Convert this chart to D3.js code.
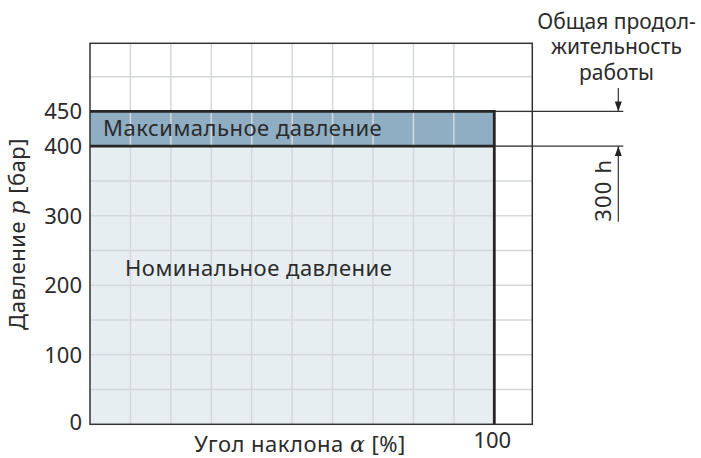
<!DOCTYPE html>
<html lang="ru">
<head>
    <meta charset="UTF-8">
    <title>Давление и угол наклона</title>
    <script src="https://d3js.org/d3.v7.min.js"></script>
    <style>
        body { margin: 0; background: #fff; }
        svg text {
            font-family: "Noto Sans", "Open Sans", sans-serif;
            font-size: 22px;
            letter-spacing: 0.5px;
            fill: #2b2b2b;
        }
        svg text.tick { letter-spacing: 0; }
        svg text.title { font-size: 21px; letter-spacing: 0; }
        svg text.life { letter-spacing: 1.2px; }
        .grid line { stroke: #d5d8db; stroke-width: 1.5px; }
        .math { font-family: "DejaVu Serif", serif; font-style: italic; }
    </style>
</head>
<body>
    <script>
        // значения с графика
        const pressureTicks = [0, 100, 200, 300, 400, 450];
        const pressureGrid = [50, 100, 150, 200, 250, 300, 350, 400, 450, 500];
        const angleGrid = [10, 20, 30, 40, 50, 60, 70, 80, 90];
        const angleTicks = [100];
        const zoneNames = ["Номинальное давление", "Максимальное давление"];
        const zoneFrom = [0, 400];
        const zoneTo = [400, 450];
        const angleMax = 100;
        const lifeLabel = "300 h";
        const lifeTitle = ["Общая продол-", "жительность", "работы"];

        const width = 701, height = 458;
        const plotLeft = 90, plotRight = 532.3, plotTop = 43.3, plotBottom = 424.3;

        const svg = d3.select("body").append("svg")
            .attr("width", width)
            .attr("height", height);

        const x = d3.scaleLinear().domain([0, 109.4]).range([plotLeft, plotRight]);
        const y = d3.scaleLinear().domain([0, 548]).range([plotBottom, plotTop]);

        // заливка зон
        const zoneFill = ["#e7eef2", "#8fadc3"];
        svg.selectAll(".zone")
            .data(zoneNames)
            .enter()
            .append("rect")
            .attr("class", "zone")
            .attr("x", x(0))
            .attr("width", x(angleMax) - x(0))
            .attr("y", (d, i) => y(zoneTo[i]))
            .attr("height", (d, i) => y(zoneFrom[i]) - y(zoneTo[i]))
            .attr("fill", (d, i) => zoneFill[i]);

        // сетка
        const grid = svg.append("g").attr("class", "grid");
        grid.selectAll(".gx")
            .data(angleGrid)
            .enter()
            .append("line")
            .attr("x1", d => x(d)).attr("x2", d => x(d))
            .attr("y1", plotTop).attr("y2", plotBottom);
        grid.selectAll(".gy")
            .data(pressureGrid)
            .enter()
            .append("line")
            .attr("x1", plotLeft).attr("x2", plotRight)
            .attr("y1", d => y(d)).attr("y2", d => y(d));

        // рамка
        svg.append("rect")
            .attr("x", plotLeft).attr("y", plotTop)
            .attr("width", plotRight - plotLeft).attr("height", plotBottom - plotTop)
            .attr("fill", "none")
            .attr("stroke", "#333")
            .attr("stroke-width", 1.5);

        // тонкие линии до размерной стрелки
        const dimX = 618.3;
        svg.selectAll(".ext")
            .data(zoneTo)
            .enter()
            .append("line")
            .attr("x1", x(angleMax)).attr("x2", dimX + 5)
            .attr("y1", d => y(d)).attr("y2", d => y(d))
            .attr("stroke", "#333")
            .attr("stroke-width", 1.2);

        // жирные границы зон
        const edge = d3.path();
        edge.moveTo(x(0), y(zoneTo[1]));
        edge.lineTo(x(angleMax), y(zoneTo[1]));
        edge.lineTo(x(angleMax), y(0));
        edge.moveTo(x(0), y(zoneFrom[1]));
        edge.lineTo(x(angleMax), y(zoneFrom[1]));
        svg.append("path")
            .attr("d", edge.toString())
            .attr("fill", "none")
            .attr("stroke", "#262626")
            .attr("stroke-width", 2.8);

        // подписи зон
        svg.append("text")
            .attr("x", 103)
            .attr("y", 136)
            .text(zoneNames[1]);
        svg.append("text")
            .attr("x", 125)
            .attr("y", 276)
            .text(zoneNames[0]);

        // ось Y
        svg.selectAll(".ytick")
            .data(pressureTicks)
            .enter()
            .append("text")
            .attr("class", "tick")
            .attr("x", 82)
            .attr("y", d => y(d))
            .attr("dy", d => d === 0 ? "0.24em" : "0.36em")
            .attr("text-anchor", "end")
            .text(d => d);

        const yLabel = svg.append("text")
            .attr("transform", "translate(25,234) rotate(-90)")
            .attr("text-anchor", "middle");
        yLabel.append("tspan").text("Давление ");
        yLabel.append("tspan").attr("class", "math").text("p");
        yLabel.append("tspan").text(" [бар]");

        // ось X
        svg.selectAll(".xtick")
            .data(angleTicks)
            .enter()
            .append("text")
            .attr("class", "tick")
            .attr("x", d => x(d) - 2)
            .attr("y", 448)
            .attr("text-anchor", "middle")
            .text(d => d);

        const xLabel = svg.append("text")
            .attr("x", 300)
            .attr("y", 452)
            .attr("text-anchor", "middle");
        xLabel.append("tspan").text("Угол наклона ");
        xLabel.append("tspan").attr("class", "math").text("α");
        xLabel.append("tspan").text(" [%]");

        // размерная линия ресурса
        svg.append("defs").append("marker")
            .attr("id", "arr")
            .attr("viewBox", "0 0 10 10")
            .attr("refX", 10).attr("refY", 5)
            .attr("markerWidth", 10).attr("markerHeight", 10)
            .attr("markerUnits", "userSpaceOnUse")
            .attr("orient", "auto")
            .append("path")
            .attr("d", "M0,1.5L10,5L0,8.5Z")
            .attr("fill", "#222");

        svg.append("line")
            .attr("x1", dimX).attr("x2", dimX)
            .attr("y1", 88).attr("y2", y(zoneTo[1]))
            .attr("stroke", "#333").attr("stroke-width", 1.2)
            .attr("marker-end", "url(#arr)");
        svg.append("line")
            .attr("x1", dimX).attr("x2", dimX)
            .attr("y1", 221.7).attr("y2", y(zoneFrom[1]))
            .attr("stroke", "#333").attr("stroke-width", 1.2)
            .attr("marker-end", "url(#arr)");

        svg.append("text")
            .attr("class", "life")
            .attr("transform", `translate(${dimX - 7},221.7) rotate(-90)`)
            .text(lifeLabel);

        svg.selectAll(".title")
            .data(lifeTitle)
            .enter()
            .append("text")
            .attr("class", "title")
            .attr("x", 616.5)
            .attr("y", (d, i) => 28.5 + i * 25.5)
            .attr("text-anchor", "middle")
            .text(d => d);
    </script>
</body>
</html>
